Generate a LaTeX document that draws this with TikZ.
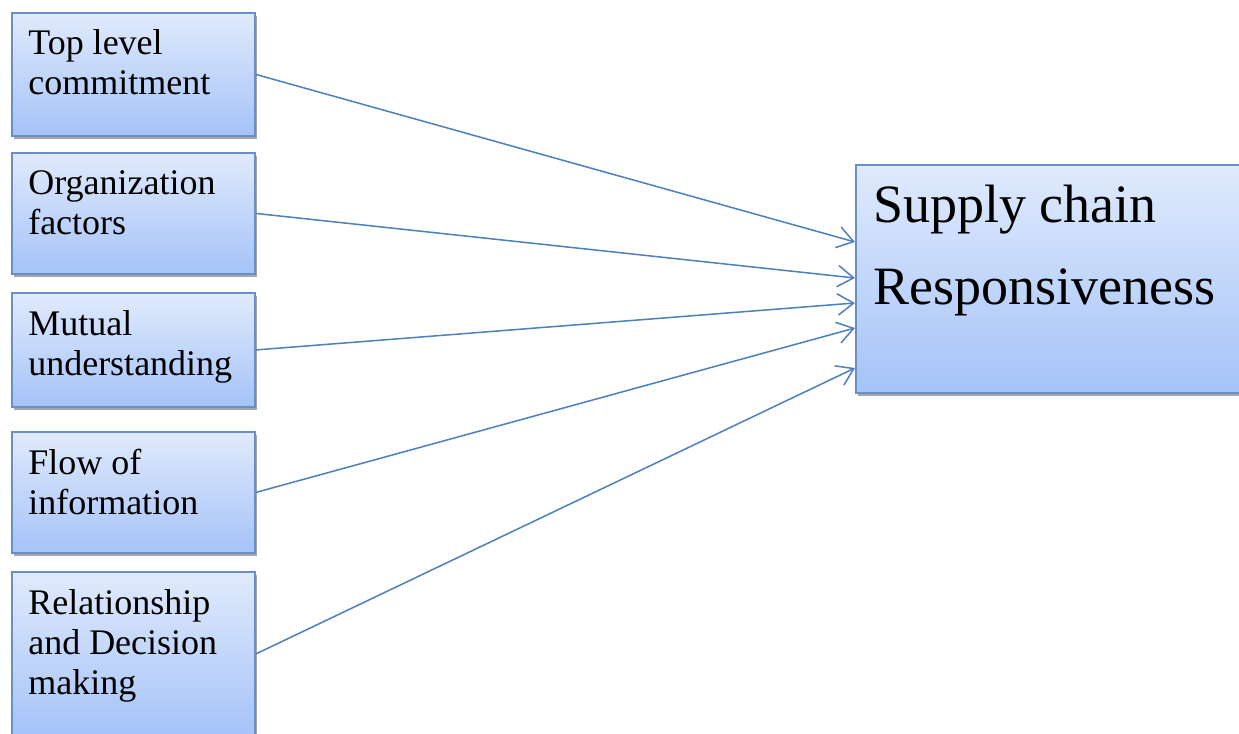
\documentclass[tikz,border=0pt]{standalone}
\usepackage{fontspec}
\setmainfont{Liberation Serif}
\usetikzlibrary{arrows.meta,shadows}
\definecolor{boxtop}{HTML}{E0EAFC}
\definecolor{boxbot}{HTML}{A5C3F8}
\definecolor{boxline}{HTML}{6A8FC6}
\definecolor{arrowc}{HTML}{4F81BD}
\tikzset{
  inbox/.style={draw=boxline, line width=1.4pt, top color=boxtop, bottom color=boxbot,
    anchor=north west, inner sep=0pt,
    drop shadow={shadow xshift=1.5pt, shadow yshift=-2.2pt, opacity=0.35, fill=black}},
  smalltxt/.style={anchor=base west, inner sep=0pt, align=left,
    font=\fontsize{27}{30}\selectfont},
  bigtxt/.style={anchor=base west, inner sep=0pt, align=left,
    font=\fontsize{40.5}{62}\selectfont},
  link/.style={draw=arrowc, line width=1.15pt, -{Straight Barb[length=12pt,width=16pt,line width=1.15pt]}}
}
\begin{document}
\begin{tikzpicture}[x=0.75pt,y=-0.75pt]
\useasboundingbox (0,0) rectangle (1239,734);
\node[inbox, minimum width=243*0.75pt, minimum height=123*0.75pt] (b1) at (11,12) {};
\node[inbox, minimum width=243*0.75pt, minimum height=121*0.75pt] (b2) at (11,152) {};
\node[inbox, minimum width=243*0.75pt, minimum height=114*0.75pt] (b3) at (11,292) {};
\node[inbox, minimum width=243*0.75pt, minimum height=121*0.75pt] (b4) at (11,431) {};
\node[inbox, minimum width=243*0.75pt, minimum height=164*0.75pt] (b5) at (11,571) {};
\node[inbox, minimum width=390*0.75pt, minimum height=228*0.75pt] (big) at (855,164) {};

% base anchor = baseline of the last line
\node[smalltxt] (t1) at (28,95) {Top level\\commitment};
\node[smalltxt] (t2) at (28,235) {Organization\\factors};
\node[smalltxt] (t3) at (28,375) {Mutual\\understanding};
\node[smalltxt] (t4) at (28,514) {Flow of\\information};
\node[smalltxt] (t5) at (28,694) {Relationship\\and Decision\\making};
\node[bigtxt] (tb) at (873,305) {Supply chain\\Responsiveness};

\draw[link] (b1.east) -- (big.west |- 0,242);
\draw[link] (b2.east) -- (big.west |- 0,278);
\draw[link] (b3.east) -- (big.west |- 0,303);
\draw[link] (b4.east) -- (big.west |- 0,328);
\draw[link] (b5.east) -- (big.west |- 0,368);
\end{tikzpicture}
\end{document}
